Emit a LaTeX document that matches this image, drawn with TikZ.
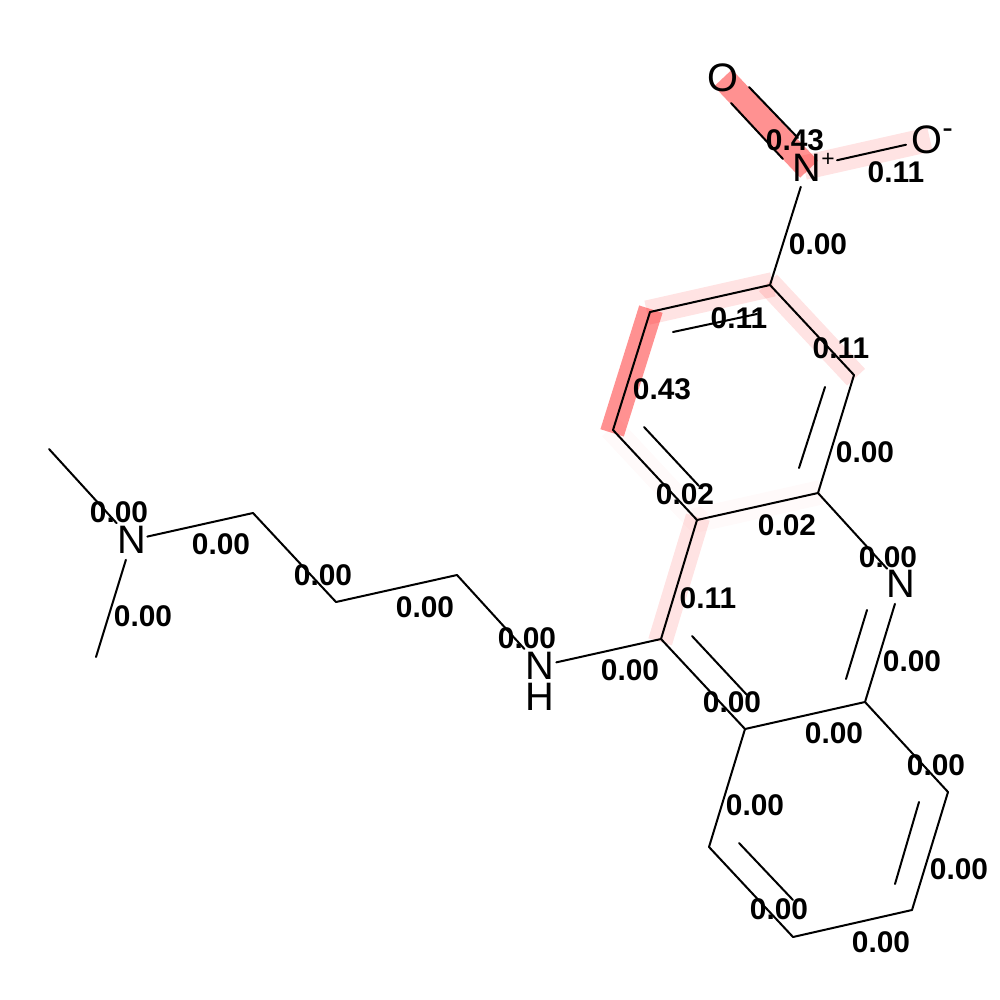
\documentclass[tikz,border=0pt]{standalone}
\usepackage{fontspec}
\setmainfont{Liberation Sans}
\usetikzlibrary{backgrounds}
\tikzset{
  atom/.style={circle, inner sep=0pt, minimum size=4mm, font=\fontsize{11.3}{12}\selectfont},
  score/.style={inner sep=0pt, font=\fontsize{8.5}{10}\selectfont\bfseries},
  bond/.style={line width=.57pt, line cap=round},
  hl/.style={red, line width=2.45mm, shorten <=-.3mm, shorten >=-.3mm},
}
\begin{document}
\begin{tikzpicture}[x=.01cm, y=-.01cm]
\useasboundingbox (0,0) rectangle (1000,1000);
% atoms
\node[atom] (aid0) at (723,78){O};
\node[atom] (aid1) at (807,167){N\rlap{\raisebox{1.5mm}{\fontsize{6.5}{6}\selectfont +}}};
\node[atom] (aid2) at (927,140){O\rlap{\raisebox{1.5mm}{\fontsize{9}{9}\selectfont -}}};
\coordinate (aid3) at (770,285);
\coordinate (aid4) at (854,375);
\coordinate (aid5) at (818,493);
\coordinate (aid6) at (697,520);
\coordinate (aid7) at (613,430);
\coordinate (aid8) at (650,312);
\coordinate (aid9) at (661,639);
\coordinate (aid10) at (745,729);
\coordinate (aid11) at (865,702);
\node[atom] (aid12) at (901,584){N};
\coordinate (aid13) at (948,792);
\coordinate (aid14) at (912,910);
\coordinate (aid15) at (793,937);
\coordinate (aid16) at (709,847);
\node[atom] (aid17) at (540,666){N};
\node[atom] (aid18) at (540,697){H};
\coordinate (aid19) at (457,575);
\coordinate (aid20) at (336,602);
\coordinate (aid21) at (253,513);
\node[atom] (aid22) at (132,540){N};
\coordinate (aid23) at (49,449);
\coordinate (aid24) at (96,657);
% highlights
\begin{scope}[on background layer]
\draw[hl, opacity=.11](aid3) -- (aid8);
\draw[hl, opacity=.11](aid3) -- (aid4);
\draw[hl, opacity=.11](aid1.center) -- (aid2.center);
\draw[hl, opacity=.11](aid6) -- (aid9);
\draw[hl, opacity=.02](aid5) -- (aid6);
\draw[hl, opacity=.02](aid6) -- (aid7);
\draw[hl, opacity=.43](aid8) -- (aid7);
\draw[hl, opacity=.43, shorten <=0pt](aid0.center) -- (aid1.center);
\end{scope}
% second lines of the double bonds
\coordinate (did0) at (749,87);
\coordinate (did1) at (798,138);
\coordinate (did2) at (731,103);
\coordinate (did3) at (783,159);
\coordinate (did4) at (673,332);
\coordinate (did5) at (757,314);
\coordinate (did6) at (825,387);
\coordinate (did7) at (799,468);
\coordinate (did8) at (644,427);
\coordinate (did9) at (699,486);
\coordinate (did10) at (692,636);
\coordinate (did11) at (747,695);
\coordinate (did12) at (867,610);
\coordinate (did13) at (846,679);
\coordinate (did14) at (919,802);
\coordinate (did15) at (895,884);
\coordinate (did16) at (739,843);
\coordinate (did17) at (793,900);
\draw[bond](did0) -- (did1);
\draw[bond](did2) -- (did3);
\draw[bond](did4) -- (did5);
\draw[bond](did6) -- (did7);
\draw[bond](did8) -- (did9);
\draw[bond](did10) -- (did11);
\draw[bond](did12) -- (did13);
\draw[bond](did14) -- (did15);
\draw[bond](did16) -- (did17);
% bonds
\draw[bond, shorten <=1mm](aid1) -- (aid2);
\draw[bond](aid1) -- (aid3);
\draw[bond](aid3) -- (aid4);
\draw[bond](aid4) -- (aid5);
\draw[bond](aid5) -- (aid6);
\draw[bond](aid6) -- (aid7);
\draw[bond](aid7) -- (aid8);
\draw[bond](aid8) -- (aid3);
\draw[bond](aid6) -- (aid9);
\draw[bond](aid9) -- (aid10);
\draw[bond](aid10) -- (aid11);
\draw[bond](aid5) -- (aid12);
\draw[bond](aid12) -- (aid11);
\draw[bond](aid11) -- (aid13);
\draw[bond](aid13) -- (aid14);
\draw[bond](aid14) -- (aid15);
\draw[bond](aid15) -- (aid16);
\draw[bond](aid16) -- (aid10);
\draw[bond, shorten <=-.4mm](aid17) -- (aid9);
\draw[bond, shorten >=.25mm](aid19) -- (aid17);
\draw[bond](aid19) -- (aid20);
\draw[bond](aid20) -- (aid21);
\draw[bond, shorten >=-.5mm](aid21) -- (aid22);
\draw[bond, shorten <=.2mm](aid22) -- (aid23);
\draw[bond](aid22) -- (aid24);
% scores
\node[score] (sid0) at (795,140){0.43};
\node[score] (sid1) at (896,172){0.11};
\node[score] (sid2) at (818,244){0.00};
\node[score] (sid3) at (739,318){0.11};
\node[score] (sid4) at (841,348){0.11};
\node[score] (sid5) at (662,389){0.43};
\node[score] (sid6) at (865,452){0.00};
\node[score] (sid7) at (685,494){0.02};
\node[score] (sid8) at (787,525){0.02};
\node[score] (sid9) at (888,557){0.00};
\node[score] (sid10) at (708,598){0.11};
\node[score] (sid11) at (912,661){0.00};
\node[score] (sid12) at (630,670){0.00};
\node[score] (sid13) at (732,702){0.00};
\node[score] (sid14) at (834,733){0.00};
\node[score] (sid15) at (936,765){0.00};
\node[score] (sid16) at (755,805){0.00};
\node[score] (sid17) at (959,869){0.00};
\node[score] (sid18) at (779,909){0.00};
\node[score] (sid19) at (881,942){0.00};
\node[score] (sid20) at (527,638){0.00};
\node[score] (sid21) at (425,607){0.00};
\node[score] (sid22) at (323,575){0.00};
\node[score] (sid23) at (221,544){0.00};
\node[score] (sid24) at (119,512){0.00};
\node[score] (sid25) at (143,616){0.00};
\end{tikzpicture}
\end{document}
